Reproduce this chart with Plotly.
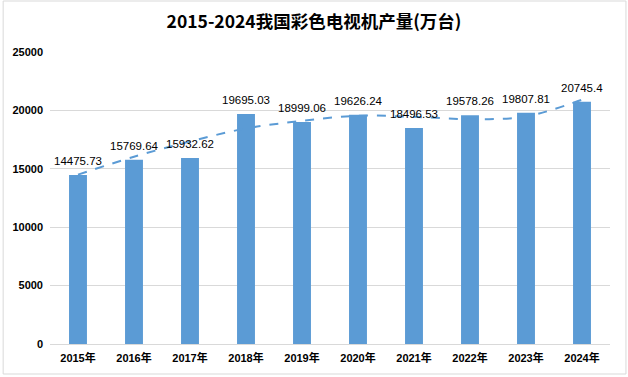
import plotly.graph_objects as go

years = ["2015年", "2016年", "2017年", "2018年", "2019年", "2020年", "2021年", "2022年", "2023年", "2024年"]
output = [14475.73, 15769.64, 15932.62, 19695.03, 18999.06, 19626.24, 18496.53, 19578.26, 19807.81, 20745.4]
labels = ["14475.73", "15769.64", "15932.62", "19695.03", "18999.06", "19626.24", "18496.53", "19578.26", "19807.81", "20745.4"]
# trend line
trend = [14500, 16030, 17340, 18450, 19100, 19540, 19450, 19250, 19480, 20920]
y_ticks = [0, 5000, 10000, 15000, 20000, 25000]
y_tick_text = ["0", "5000", "10000", "15000", "20000", "25000"]

W, H = 628, 377
L, R, T, B = 48, 18, 52, 33

fig = go.Figure()
fig.add_trace(go.Bar(
    x=years, y=output,
    marker=dict(color="#5B9BD5", line=dict(width=0)),
    width=0.32, hoverinfo="x+y",
))
fig.add_trace(go.Scatter(
    x=years, y=trend, mode="lines",
    line=dict(color="#5B9BD5", width=2, dash="dash", shape="spline", smoothing=1.0),
    hoverinfo="skip",
))

annotations = [
    dict(x=xv, y=yv, text=t, xref="x", yref="y", showarrow=False,
         yanchor="bottom", xanchor="center", yshift=6,
         font=dict(family="Liberation Sans, Arial", size=11.5, color="#000000"))
    for xv, yv, t in zip(years, output, labels)
]

fig.update_layout(
    width=W, height=H,
    margin=dict(l=L, r=R, t=T, b=B),
    paper_bgcolor="white", plot_bgcolor="white",
    showlegend=False,
    annotations=annotations,
    title=dict(text="<b>2015-2024我国彩色电视机产量(万台)</b>", x=0.5, xanchor="center",
               y=1 - 22 / H, yanchor="middle",
               font=dict(family="Noto Sans CJK SC", size=17.5, color="#000000")),
    xaxis=dict(showgrid=False, showline=True, linecolor="#d9d9d9", linewidth=1,
               ticks="", tickfont=dict(family="Liberation Sans, Noto Sans CJK SC", size=11, color="#000000", weight="bold"),
               ticklabelstandoff=4),
    yaxis=dict(range=[0, 25000], tickvals=y_ticks, ticktext=y_tick_text, showgrid=True, gridcolor="#d9d9d9", gridwidth=1,
               zeroline=False, showline=False, ticks="",
               tickfont=dict(family="Liberation Sans, Arial", size=11, color="#000000", weight="bold"),
               ticklabelstandoff=6),
    shapes=[dict(type="rect", xref="paper", yref="paper",
                 x0=-(L - 1) / (W - L - R), x1=1 + (R - 2) / (W - L - R),
                 y0=-(B - 3) / (H - T - B), y1=1 + (T - 1) / (H - T - B),
                 line=dict(color="#d9d9d9", width=1))],
)

fig.write_html("out.html")
